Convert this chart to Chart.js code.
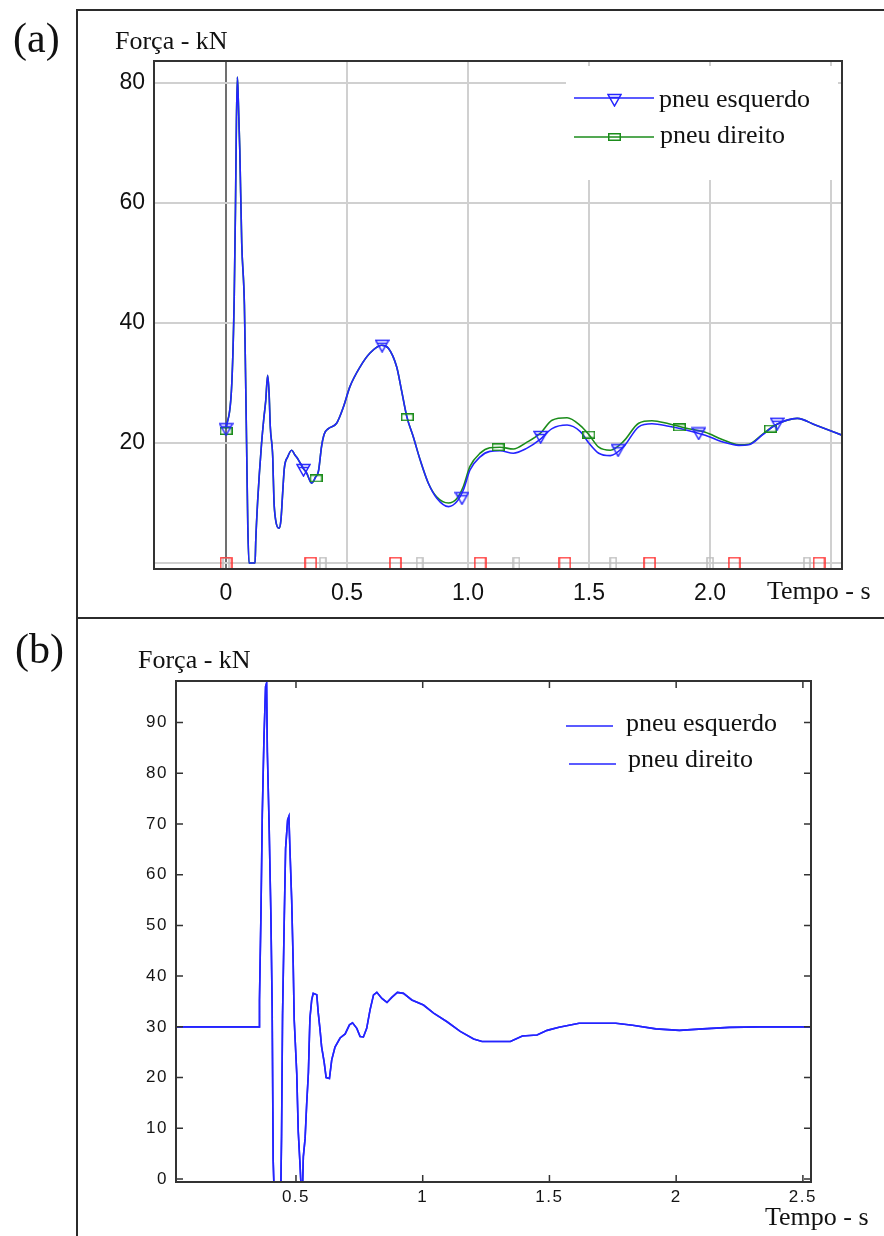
<!DOCTYPE html>
<html>
<head>
<meta charset="utf-8">
<script src="https://cdn.jsdelivr.net/npm/chart.js@4.4.1/dist/chart.umd.min.js"></script>
<style>
  body { margin: 0; background: #fff; }
  #page { position: relative; width: 884px; height: 1236px; overflow: hidden; background: #fff; }
  canvas { position: absolute; left: 0; }
  .rule { position: absolute; background: #2b2b2b; }
  .lbl { position: absolute; font-family: 'Liberation Serif', 'Times New Roman', serif; color: #111; line-height: 1; white-space: nowrap; }
</style>
</head>
<body>
<div id="page">
  <canvas id="chartA" width="884" height="617" style="top:0"></canvas>
  <canvas id="chartB" width="884" height="617" style="top:619px"></canvas>
  <div class="rule" style="left:76px;top:9px;width:808px;height:2px"></div>
  <div class="rule" style="left:76px;top:9px;width:2px;height:1227px"></div>
  <div class="rule" style="left:76px;top:617px;width:808px;height:2px"></div>
  <div class="lbl" style="left:13px;top:17px;font-size:42px">(a)</div>
  <div class="lbl" style="left:115px;top:28px;font-size:26px">Força - kN</div>
  <div class="lbl" style="left:767px;top:578px;font-size:26px">Tempo - s</div>
  <div class="lbl" style="left:15px;top:628px;font-size:42px">(b)</div>
  <div class="lbl" style="left:138px;top:647px;font-size:26px">Força - kN</div>
  <div class="lbl" style="left:765px;top:1204px;font-size:26px">Tempo - s</div>
</div>
<script>
const BLUE = '#2424ff';
const GREEN = '#1b8c1b';
const RED = '#ff2a2a';
const GREY = '#bdbdbd';

// (a) força nos pneus
const tA = [0, 0.024, 0.034, 0.039, 0.043, 0.047, 0.051, 0.057, 0.065, 0.076,
  0.081, 0.085, 0.09, 0.095, 0.12, 0.123, 0.131, 0.138, 0.147, 0.156,
  0.164, 0.172, 0.178, 0.183, 0.193, 0.198, 0.205, 0.219, 0.227, 0.234,
  0.241, 0.255, 0.271, 0.285, 0.299, 0.319, 0.333, 0.354, 0.37, 0.382,
  0.395, 0.406, 0.423, 0.457, 0.485, 0.512, 0.554, 0.595, 0.643, 0.671,
  0.705, 0.726, 0.747, 0.774, 0.802, 0.836, 0.871, 0.919, 0.953, 0.981,
  1.008, 1.05, 1.09, 1.132, 1.187, 1.242, 1.298, 1.347, 1.409, 1.464,
  1.499, 1.54, 1.588, 1.643, 1.705, 1.76, 1.829, 1.898, 1.98, 2.05,
  2.119, 2.16, 2.215, 2.27, 2.36, 2.435, 2.545];
const esquerdoA = [22.3, 30, 44.4, 58.8, 73.6, 81, 76.9, 68.8, 53.3, 43,
  30.8, 20, 6.3, 0, 0, 3.8, 10.5, 15, 20, 24,
  27, 31.3, 28.3, 22.7, 17.7, 10.5, 7.2, 5.8, 7.2, 11.6,
  15.8, 17.7, 18.8, 18, 17.2, 15.8, 15, 13.3, 14.3, 15.3,
  19.5, 21.5, 22.4, 23.3, 26, 29.4, 32.7, 35, 36.3, 35.8,
  32.7, 28.6, 24.4, 21, 17.2, 13.3, 10.8, 9.4, 10.2, 12.2,
  15.5, 17.7, 18.6, 18.7, 18.3, 19.1, 20.6, 22.4, 23.0, 21.9,
  20.0, 18.3, 17.9, 19.4, 22.7, 23.2, 22.8, 22.2, 21.3, 20.2,
  19.6, 19.7, 21.3, 23.0, 24.1, 23.0, 21.3];
const direitoA = [22.3, 30, 44.4, 58.8, 73.6, 81, 76.9, 68.8, 53.3, 43,
  30.8, 20, 6.3, 0, 0, 3.8, 10.5, 15, 20, 24,
  27, 31.3, 28.3, 22.7, 17.7, 10.5, 7.2, 5.8, 7.2, 11.6,
  15.8, 17.7, 18.8, 18, 17.2, 15.8, 15, 13.3, 14.3, 15.3,
  19.5, 21.5, 22.4, 23.3, 26, 29.4, 32.7, 35, 36.3, 35.8,
  32.7, 28.6, 24.4, 21, 17.2, 13.3, 11.0, 10.0, 10.7, 12.8,
  16.1, 18.3, 19.2, 19.3, 19.0, 20.1, 21.6, 23.8, 24.2, 22.9,
  21.4, 19.3, 18.8, 20.3, 23.3, 23.7, 23.2, 22.5, 21.8, 20.6,
  19.7, 19.8, 21.4, 23.0, 24.1, 23.0, 21.3];
const triT = [0, 0.32, 0.645, 0.975, 1.30, 1.62, 1.953, 2.277];
const triF = [22.3, 15.5, 36.2, 10.8, 21.0, 18.8, 21.6, 23.2];
const sqT = [0, 0.372, 0.749, 1.124, 1.499, 1.873, 2.249];
const sqF = [22.0, 14.1, 24.3, 19.3, 21.4, 22.6, 22.4];
const redT = [0, 0.35, 0.70, 1.05, 1.40, 1.75, 2.10, 2.45];
const redF = [0, 0, 0, 0, 0, 0, 0, 0];
const greyT = [0, 0.4, 0.8, 1.2, 1.6, 2.0, 2.4];
const greyF = [0, 0, 0, 0, 0, 0, 0];
const xTicksA = [0, 0.5, 1.0, 1.5, 2.0, 2.5];
const xLabelsA = ['0', '0.5', '1.0', '1.5', '2.0', ''];
const yTicksA = [0, 20, 40, 60, 80];
const yLabelsA = ['', '20', '40', '60', '80'];

// (b)
const tB = [0, 0.355, 0.356, 0.362, 0.367, 0.3735, 0.38, 0.384, 0.387, 0.394,
  0.401, 0.406, 0.41, 0.414, 0.44, 0.443, 0.447, 0.454, 0.459, 0.467,
  0.472, 0.476, 0.483, 0.489, 0.493, 0.503, 0.509, 0.516, 0.52, 0.526,
  0.529, 0.536, 0.542, 0.549, 0.555, 0.562, 0.568, 0.582, 0.588, 0.595,
  0.601, 0.611, 0.619, 0.632, 0.641, 0.654, 0.674, 0.694, 0.711, 0.723,
  0.74, 0.753, 0.766, 0.779, 0.792, 0.806, 0.819, 0.839, 0.859, 0.878,
  0.9, 0.924, 0.957, 1.003, 1.043, 1.096, 1.148, 1.201, 1.234, 1.346,
  1.393, 1.451, 1.491, 1.538, 1.617, 1.762, 1.828, 1.92, 2.013, 2.105,
  2.21, 2.329, 2.55];
const forceB = [30, 30, 35.3, 53, 71.8, 86.6, 97.1, 97.8, 84.3, 69.8,
  52, 33.7, 3.7, -3, -3, 8.3, 32.3, 52, 65.2, 70.8,
  71.5, 65.2, 55, 42.5, 31.4, 20.8, 9.3, 2.8, -1.5, -1.5,
  4.4, 8, 14.6, 21, 31.7, 35.3, 36.6, 36.3, 32.7, 29.4,
  26.1, 23.1, 20, 19.8, 23.5, 26, 27.8, 28.6, 30.4, 30.8,
  29.7, 28.1, 28, 29.7, 33.3, 36.3, 36.8, 35.6, 34.8, 35.8,
  36.8, 36.6, 35.3, 34.3, 32.7, 31, 29.1, 27.6, 27.1, 27.1,
  28.2, 28.4, 29.3, 29.9, 30.7, 30.7, 30.3, 29.6, 29.3, 29.6,
  29.9, 30, 30];
const xTicksB = [0.5, 1, 1.5, 2, 2.5];
const xLabelsB = ['0.5', '1', '1.5', '2', '2.5'];
const yTicksB = [0, 10, 20, 30, 40, 50, 60, 70, 80, 90];
const yLabelsB = ['0', '10', '20', '30', '40', '50', '60', '70', '80', '90'];

const pts = (xs, ys) => xs.map((x, i) => ({ x, y: ys[i] }));

function marker(w, h, draw) {
  const c = document.createElement('canvas');
  c.width = w; c.height = h;
  draw(c.getContext('2d'), w, h);
  return c;
}
const triDown = marker(15, 14, (g, w, h) => {
  g.strokeStyle = BLUE; g.lineWidth = 1.5;
  g.beginPath(); g.moveTo(1, 1.5); g.lineTo(w - 1, 1.5); g.lineTo(w / 2, h - 1); g.closePath(); g.stroke();
  g.beginPath(); g.moveTo(3, 4.5); g.lineTo(w - 3, 4.5); g.stroke();
});
const greenRect = marker(13, 8, (g) => {
  g.strokeStyle = GREEN; g.lineWidth = 1.5; g.strokeRect(0.75, 0.75, 11.5, 6.5);
});
const redCap = marker(13, 13, (g) => {
  g.strokeStyle = RED; g.lineWidth = 1.5;
  g.beginPath(); g.moveTo(1, 13); g.lineTo(1, 1); g.lineTo(12, 1); g.lineTo(12, 13); g.stroke();
});
const greyCap = marker(8, 13, (g) => {
  g.strokeStyle = GREY; g.lineWidth = 1.5;
  g.beginPath(); g.moveTo(1, 13); g.lineTo(1, 1); g.lineTo(7, 1); g.lineTo(7, 13); g.stroke();
});

function frame(color) {
  return {
    id: 'frame',
    afterDraw(chart) {
      const { ctx, chartArea: a } = chart;
      ctx.save();
      ctx.strokeStyle = color; ctx.lineWidth = 2;
      ctx.strokeRect(a.left, a.top, a.right - a.left, a.bottom - a.top);
      ctx.restore();
    }
  };
}

function legendAt(cfg) {
  return {
    id: 'legendAt',
    afterDatasetsDraw(chart) {
      const { ctx } = chart;
      ctx.save();
      ctx.letterSpacing = '0px';
      if (cfg.box) { ctx.fillStyle = '#fff'; ctx.fillRect(...cfg.box); }
      cfg.items.forEach(it => {
        const ds = chart.data.datasets[it.index];
        ctx.strokeStyle = ds.borderColor; ctx.lineWidth = 1.6;
        ctx.beginPath(); ctx.moveTo(it.x0, it.y); ctx.lineTo(it.x1, it.y); ctx.stroke();
        if (it.marker) ctx.drawImage(it.marker, Math.round(it.mx - it.marker.width / 2), Math.round(it.my - it.marker.height / 2));
        ctx.fillStyle = '#111';
        ctx.font = '26px "Liberation Serif"';
        ctx.textBaseline = 'alphabetic';
        ctx.fillText(ds.label, it.tx, it.ty);
      });
      ctx.restore();
    }
  };
}

function innerTicks(len) {
  return {
    id: 'innerTicks',
    afterDraw(chart) {
      const { ctx, chartArea: a, scales: { x, y } } = chart;
      ctx.save();
      ctx.strokeStyle = '#333'; ctx.lineWidth = 1.5;
      ctx.beginPath();
      x.ticks.forEach(t => {
        const px = x.getPixelForValue(t.value);
        ctx.moveTo(px, a.bottom); ctx.lineTo(px, a.bottom - len);
        ctx.moveTo(px, a.top); ctx.lineTo(px, a.top + len);
      });
      y.ticks.forEach(t => {
        const py = y.getPixelForValue(t.value);
        ctx.moveTo(a.left, py); ctx.lineTo(a.left + len, py);
        ctx.moveTo(a.right, py); ctx.lineTo(a.right - len, py);
      });
      ctx.stroke();
      ctx.restore();
    }
  };
}

const spacedTicks = { id: 'spacedTicks', beforeDraw(chart) { chart.ctx.letterSpacing = '1.5px'; } };

const base = {
  responsive: false,
  animation: false,
  events: [],
  plugins: { legend: { display: false }, tooltip: { enabled: false } }
};

new Chart(document.getElementById('chartA'), {
  type: 'line',
  data: {
    datasets: [
      { label: 'pneu esquerdo', data: pts(tA, esquerdoA), borderColor: BLUE, borderWidth: 1.6, pointRadius: 0, cubicInterpolationMode: 'monotone', order: 1 },
      { label: 'pneu direito', data: pts(tA, direitoA), borderColor: GREEN, borderWidth: 1.6, pointRadius: 0, cubicInterpolationMode: 'monotone', order: 2 },
      { label: 'esquerdo marcas', data: pts(triT, triF), showLine: false, pointStyle: triDown, pointRadius: 6, order: 0 },
      { label: 'direito marcas', data: pts(sqT, sqF), showLine: false, pointStyle: greenRect, pointRadius: 6, order: 0 },
      { label: 'vermelho', data: pts(redT, redF), showLine: false, pointStyle: redCap, pointRadius: 6, order: 3 },
      { label: 'cinza', data: pts(greyT, greyF), showLine: false, pointStyle: greyCap, pointRadius: 6, order: 3 }
    ]
  },
  options: {
    ...base,
    layout: { padding: { top: 61, right: 42, left: 0, bottom: 0 } },
    scales: {
      x: {
        type: 'linear', min: -0.2975, max: 2.545,
        afterBuildTicks: s => { s.ticks = xTicksA.map(value => ({ value })); },
        afterFit: s => { s.height = 48; },
        border: { display: false },
        grid: { color: c => (c.tick && c.tick.value === 0 ? '#707070' : '#d0d0d0'), lineWidth: 2, drawTicks: false },
        ticks: { padding: 11, color: '#111', font: { family: 'Liberation Sans', size: 23 }, maxRotation: 0, autoSkip: false, callback: (v, i) => xLabelsA[i] }
      },
      y: {
        min: -1, max: 83.67,
        afterBuildTicks: s => { s.ticks = yTicksA.map(value => ({ value })); },
        afterFit: s => { s.width = 154; },
        border: { display: false },
        grid: { color: '#d0d0d0', lineWidth: 2, drawTicks: false },
        ticks: { padding: 9, color: '#111', font: { family: 'Liberation Sans', size: 23 }, autoSkip: false, callback: (v, i) => yLabelsA[i] }
      }
    }
  },
  plugins: [
    legendAt({
      box: [566, 66, 272, 114],
      items: [
        { index: 0, x0: 574, x1: 654, y: 98, marker: triDown, mx: 614, my: 100, tx: 659, ty: 107 },
        { index: 1, x0: 574, x1: 654, y: 137, marker: greenRect, mx: 614, my: 137, tx: 660, ty: 143 }
      ]
    }),
    frame('#333')
  ]
});

new Chart(document.getElementById('chartB'), {
  type: 'line',
  data: {
    datasets: [
      { label: 'pneu esquerdo', data: pts(tB, forceB), borderColor: BLUE, borderWidth: 1.6, pointRadius: 0, tension: 0 },
      { label: 'pneu direito', data: pts(tB, forceB), borderColor: BLUE, borderWidth: 1.6, pointRadius: 0, tension: 0 }
    ]
  },
  options: {
    ...base,
    layout: { padding: { top: 62, right: 73, left: 0, bottom: 0 } },
    scales: {
      x: {
        type: 'linear', min: 0.0266, max: 2.532,
        afterBuildTicks: s => { s.ticks = xTicksB.map(value => ({ value })); },
        afterFit: s => { s.height = 54; },
        border: { display: false },
        grid: { display: false, drawTicks: false },
        ticks: { padding: 5, color: '#141414', font: { family: 'Liberation Sans', size: 17 }, maxRotation: 0, autoSkip: false, callback: (v, i) => xLabelsB[i] }
      },
      y: {
        min: -0.6, max: 98.2,
        afterBuildTicks: s => { s.ticks = yTicksB.map(value => ({ value })); },
        afterFit: s => { s.width = 176; },
        border: { display: false },
        grid: { display: false, drawTicks: false },
        ticks: { padding: 8, color: '#141414', font: { family: 'Liberation Sans', size: 17 }, autoSkip: false, callback: (v, i) => yLabelsB[i] }
      }
    }
  },
  plugins: [
    spacedTicks,
    legendAt({
      items: [
        { index: 0, x0: 566, x1: 613, y: 107, tx: 626, ty: 112 },
        { index: 1, x0: 569, x1: 616, y: 145, tx: 628, ty: 148 }
      ]
    }),
    innerTicks(7),
    frame('#333')
  ]
});
</script>
</body>
</html>
